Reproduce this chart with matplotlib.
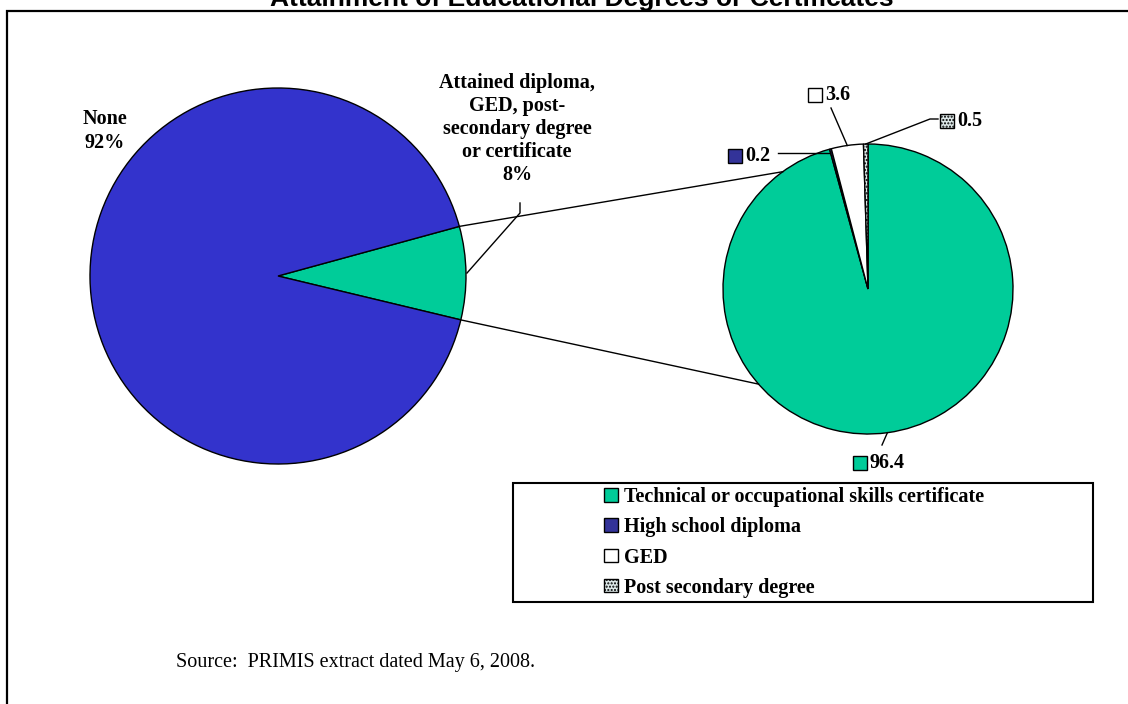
import numpy as np
import matplotlib
matplotlib.use("Agg")
import matplotlib.pyplot as plt
from matplotlib.patches import Rectangle

# ---------------- data ----------------
title = "Attainment of Educational Degrees or Certificates"
outer_labels = ["Attained diploma,\nGED, post-\nsecondary degree\nor certificate", "None"]
outer_values = [8, 92]
outer_colors = ["#00CC99", "#3333CC"]

detail_labels = ["Technical or occupational skills certificate", "High school diploma",
                 "GED", "Post secondary degree"]
detail_values = [96.4, 0.2, 3.6, 0.5]
detail_colors = ["#00CC99", "#333399", "#FFFFFF", "#DDE8E8"]
detail_hatches = [None, None, None, "....."]
source = "Source:  PRIMIS extract dated May 6, 2008."

SERIF = "Liberation Serif"
FS = 14.5
W, H = 1128, 704

fig = plt.figure(figsize=(W / 100, H / 100), dpi=100)
ax = fig.add_axes([0, 0, 1, 1])

# ---------------- left pie ----------------
c1, r1 = (278, 428), 188
w1, _ = ax.pie(outer_values, colors=outer_colors, startangle=-13.5,
               center=c1, radius=r1, frame=False,
               wedgeprops=dict(edgecolor="black", linewidth=1.0))

# ---------------- right pie ----------------
c2, r2 = (868, 415), 145
w2, _ = ax.pie(detail_values, colors=detail_colors, startangle=90, counterclock=False,
               center=c2, radius=r2, frame=False,
               wedgeprops=dict(edgecolor="black", linewidth=1.0))
for w, h in zip(w2, detail_hatches):
    if h:
        w.set_hatch(h)

ax.set_xlim(0, W)
ax.set_ylim(0, H)
ax.axis("off")


def polar(c, r, deg):
    a = np.deg2rad(deg)
    return c[0] + r * np.cos(a), c[1] + r * np.sin(a)


# connector lines between pies
g = w1[0]
p_top = polar(c1, r1, g.theta2)
p_bot = polar(c1, r1, g.theta1)
q_top = polar(c2, r2, 126)
q_bot = polar(c2, r2, 221)
ax.plot([p_top[0], q_top[0]], [p_top[1], q_top[1]], color="black", lw=1.0, zorder=3)
ax.plot([p_bot[0], q_bot[0]], [p_bot[1], q_bot[1]], color="black", lw=1.0, zorder=3)

# left pie labels
ax.text(105, H - 131, f"{outer_labels[1]}\n{outer_values[1]}%", ha="center", va="center",
        family=SERIF, weight="bold", fontsize=FS, linespacing=1.25)
ax.text(517, H - 129, f"{outer_labels[0]}\n{outer_values[0]}%", ha="center", va="center",
        family=SERIF, weight="bold", fontsize=FS, linespacing=1.2)
gm = polar(c1, r1 + 1, (g.theta1 + g.theta2) / 2)
ax.plot([520, 520, gm[0]], [H - 203, H - 213, gm[1]], color="black", lw=1.0, zorder=4)


# right pie data labels with colored squares
def sq_label(x, y, text, face, hatch):
    ax.add_patch(Rectangle((x, y - 7), 14, 14, facecolor=face, edgecolor="black",
                           lw=1.0, hatch=hatch, zorder=5))
    ax.text(x + 17, y, text, ha="left", va="center", family=SERIF, weight="bold",
            fontsize=FS, zorder=5)


def mid(w):
    return (w.theta1 + w.theta2) / 2


fmt = lambda v: f"{v:.1f}"
# 0.2
sq_label(728, H - 156, fmt(detail_values[1]), detail_colors[1], None)
pa = polar(c2, r2, mid(w2[1]))
ax.plot([778, pa[0]], [H - 153, H - 153], color="black", lw=1.0, zorder=4)
# 3.6
sq_label(808, H - 95, fmt(detail_values[2]), detail_colors[2], None)
pa = polar(c2, r2, mid(w2[2]))
ax.plot([831, pa[0]], [H - 108, pa[1]], color="black", lw=1.0, zorder=4)
# 0.5
sq_label(940, H - 121, fmt(detail_values[3]), detail_colors[3], detail_hatches[3])
pa = polar(c2, r2, mid(w2[3]))
ax.plot([938, 930, pa[0]], [H - 119, H - 119, pa[1]], color="black", lw=1.0, zorder=4)
# 96.4
sq_label(853, H - 463, fmt(detail_values[0]), detail_colors[0], None)
pa = polar(c2, r2, mid(w2[0]))
ax.plot([882, pa[0]], [H - 445, pa[1]], color="black", lw=1.0, zorder=4)

# legend box
bx0, by0, bw, bh = 513, H - 602, 580, 119
ax.add_patch(Rectangle((bx0, by0), bw, bh, facecolor="white", edgecolor="black",
                       lw=1.5, zorder=1))
leg = ax.legend(w2, detail_labels, loc="center left",
                bbox_to_anchor=(604 / W, (by0 + bh / 2) / H),
                bbox_transform=fig.transFigure, frameon=False,
                prop=dict(family=SERIF, weight="bold", size=FS),
                handlelength=0.68, handleheight=0.68, handletextpad=0.3,
                labelspacing=0.5, borderpad=0, borderaxespad=0)

# source
ax.text(176, H - 662, source, ha="left", va="center", family=SERIF, fontsize=14.5)

# title (clipped at top, as in the original)
fig.text(582 / W, 1 - 6 / H, title, ha="center", va="baseline",
         family="Liberation Sans", weight="bold", fontsize=19)

# frame
ax.plot([7, 7, W], [0, H - 11, H - 11], color="black", lw=1.6, zorder=6,
        solid_joinstyle="miter")

fig.savefig("out.png", dpi=100)
